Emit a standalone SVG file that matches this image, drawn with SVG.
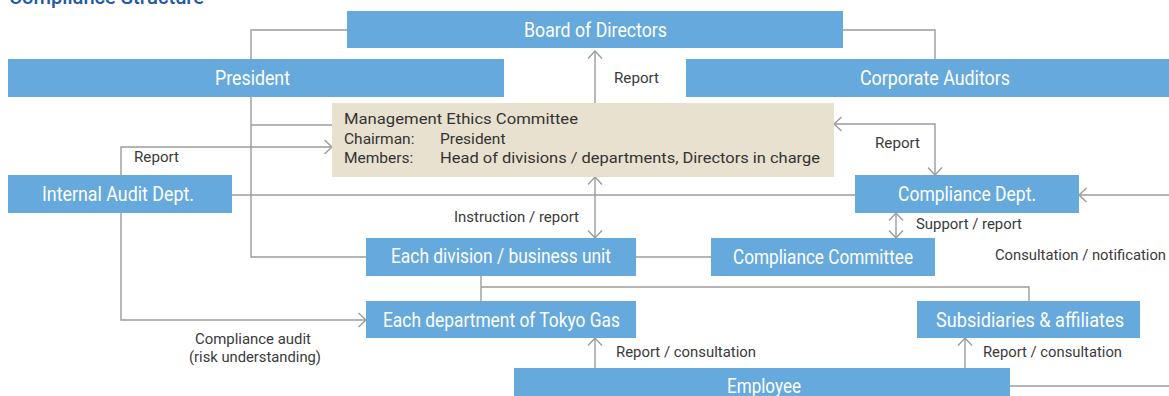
<svg xmlns="http://www.w3.org/2000/svg" width="1169" height="396" viewBox="0 0 1169 396">
<style>
.box{fill:#66a9dc}
.mec{fill:#e8e1cf}
.bl{font-family:Roboto,"Liberation Sans",sans-serif;font-size:19.5px;font-weight:400;fill:#ffffff;text-anchor:middle}
.lb{font-family:Roboto,"Liberation Sans",sans-serif;font-size:14.5px;fill:#3a3a3a}
.mt{font-family:Roboto,"Liberation Sans",sans-serif;font-size:15.5px;fill:#333333}
.ln{fill:none;stroke:#9c9c9c;stroke-width:1.4}
.title{font-family:Roboto,"Liberation Sans",sans-serif;font-size:20px;font-weight:500;fill:#2459a8}
</style>
<defs>
<marker id="ah" markerUnits="userSpaceOnUse" markerWidth="20" markerHeight="20" viewBox="-10 -10 20 20" refX="0" refY="0" orient="auto-start-reverse">
<path d="M-7.5,-7 L0,0 L-7.5,7" fill="none" stroke="#9c9c9c" stroke-width="1.4"/>
</marker>
</defs>
<text class="title" x="9" y="4" textLength="195" lengthAdjust="spacingAndGlyphs">Compliance Structure</text>
<g id="connectors">
<polyline class="ln" points="347,30 251,30 251,59"/>
<polyline class="ln" points="843,30 935,30 935,59"/>
<line class="ln" x1="595" y1="103" x2="595" y2="51" marker-end="url(#ah)"/>
<polyline class="ln" points="251,97 251,257 366,257"/>
<line class="ln" x1="251" y1="125" x2="332" y2="125"/>
<polyline class="ln" points="121,175 121,147 332,147" marker-end="url(#ah)"/>
<line class="ln" x1="232" y1="195" x2="855" y2="195"/>
<polyline class="ln" points="121,212 121,320 366,320" marker-end="url(#ah)"/>
<line class="ln" x1="595" y1="177" x2="595" y2="238" marker-start="url(#ah)" marker-end="url(#ah)"/>
<polyline class="ln" points="834,124 935,124 935,175" marker-start="url(#ah)" marker-end="url(#ah)"/>
<line class="ln" x1="896" y1="213" x2="896" y2="238" marker-start="url(#ah)" marker-end="url(#ah)"/>
<line class="ln" x1="1169" y1="195" x2="1079" y2="195" marker-end="url(#ah)"/>
<line class="ln" x1="636" y1="257" x2="711" y2="257"/>
<line class="ln" x1="481" y1="276" x2="481" y2="301"/>
<polyline class="ln" points="481,287 1029,287 1029,301"/>
<line class="ln" x1="595" y1="368" x2="595" y2="338" marker-end="url(#ah)"/>
<line class="ln" x1="965" y1="368" x2="965" y2="338" marker-end="url(#ah)"/>
<line class="ln" x1="1010" y1="386" x2="1169" y2="386"/>
</g>
<g id="labels">
<text class="lb" x="614" y="83" textLength="45" lengthAdjust="spacingAndGlyphs">Report</text>
<text class="lb" x="134" y="162" textLength="45" lengthAdjust="spacingAndGlyphs">Report</text>
<text class="lb" x="875" y="148" textLength="45" lengthAdjust="spacingAndGlyphs">Report</text>
<text class="lb" x="454" y="222" textLength="125" lengthAdjust="spacingAndGlyphs">Instruction / report</text>
<text class="lb" x="916" y="229" textLength="106" lengthAdjust="spacingAndGlyphs">Support / report</text>
<text class="lb" x="995" y="260" textLength="171" lengthAdjust="spacingAndGlyphs">Consultation / notification</text>
<text class="lb" x="195" y="344" textLength="116" lengthAdjust="spacingAndGlyphs">Compliance audit</text>
<text class="lb" x="189" y="362" textLength="132" lengthAdjust="spacingAndGlyphs">(risk understanding)</text>
<text class="lb" x="616" y="357" textLength="140" lengthAdjust="spacingAndGlyphs">Report / consultation</text>
<text class="lb" x="983" y="357" textLength="139" lengthAdjust="spacingAndGlyphs">Report / consultation</text>
</g>
<g id="board"><rect class="box" x="347" y="11" width="496" height="37"/><text class="bl" x="595.5" y="37" textLength="143" lengthAdjust="spacingAndGlyphs">Board of Directors</text></g>
<g id="president"><rect class="box" x="8" y="59" width="496" height="38"/><text class="bl" x="252.5" y="85" textLength="75" lengthAdjust="spacingAndGlyphs">President</text></g>
<g id="auditors"><rect class="box" x="686" y="59" width="483" height="38"/><text class="bl" x="935" y="85" textLength="150" lengthAdjust="spacingAndGlyphs">Corporate Auditors</text></g>
<g id="mec"><rect class="mec" x="332" y="103" width="502" height="74"/>
<text class="mt" x="344" y="124" textLength="234" lengthAdjust="spacingAndGlyphs">Management Ethics Committee</text>
<text class="mt" x="344" y="144">Chairman:</text>
<text class="mt" x="440" y="144">President</text>
<text class="mt" x="344" y="163">Members:</text>
<text class="mt" x="440" y="163" textLength="380" lengthAdjust="spacingAndGlyphs">Head of divisions / departments, Directors in charge</text></g>
<g id="internal-audit"><rect class="box" x="8" y="175" width="224" height="38"/><text class="bl" x="118" y="201" textLength="152" lengthAdjust="spacingAndGlyphs">Internal Audit Dept.</text></g>
<g id="compliance-dept"><rect class="box" x="855" y="175" width="224" height="38"/><text class="bl" x="967" y="201" textLength="138" lengthAdjust="spacingAndGlyphs">Compliance Dept.</text></g>
<g id="division"><rect class="box" x="366" y="238" width="270" height="38"/><text class="bl" x="501" y="263" textLength="220" lengthAdjust="spacingAndGlyphs">Each division / business unit</text></g>
<g id="compliance-committee"><rect class="box" x="711" y="238" width="224" height="38"/><text class="bl" x="823" y="264" textLength="180" lengthAdjust="spacingAndGlyphs">Compliance Committee</text></g>
<g id="department"><rect class="box" x="366" y="301" width="270" height="37"/><text class="bl" x="501.5" y="326.5" textLength="237" lengthAdjust="spacingAndGlyphs">Each department of Tokyo Gas</text></g>
<g id="subsidiaries"><rect class="box" x="917" y="301" width="223" height="37"/><text class="bl" x="1030" y="326.5" textLength="188" lengthAdjust="spacingAndGlyphs">Subsidiaries &amp; affiliates</text></g>
<g id="employee"><rect class="box" x="514" y="368" width="496" height="30"/><text class="bl" x="764" y="393" textLength="74" lengthAdjust="spacingAndGlyphs">Employee</text></g>
</svg>
